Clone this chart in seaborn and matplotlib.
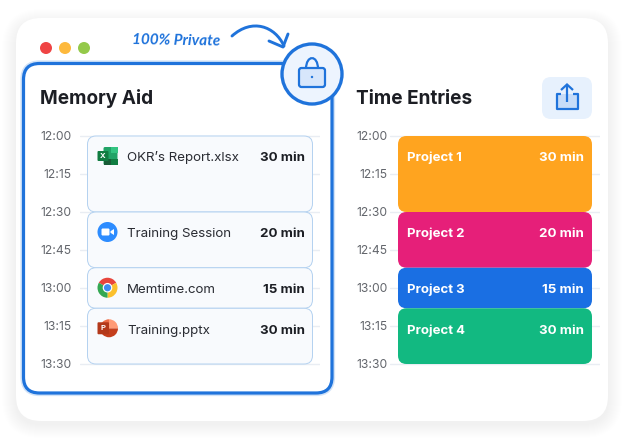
import matplotlib
matplotlib.use('Agg')
import matplotlib.pyplot as plt
import seaborn as sns
from matplotlib.patches import Circle, FancyBboxPatch, PathPatch, Polygon, Rectangle, Wedge
from matplotlib.path import Path
from matplotlib.transforms import IdentityTransform

# Chart values (minutes after 12:00, as drawn in the picture)
tick_minutes = [0, 15, 30, 45, 60, 75, 90]
tick_labels = ['12:00', '12:15', '12:30', '12:45', '13:00', '13:15', '13:30']
block_starts = [0, 30, 52, 68]
block_lengths = [30, 22, 16, 22]
duration_labels = ['30 min', '20 min', '15 min', '30 min']
memory_names = ["OKR’s Report.xlsx", 'Training Session', 'Memtime.com', 'Training.pptx']
project_names = ['Project 1', 'Project 2', 'Project 3', 'Project 4']
project_colors = ['#ffa41f', '#e61f79', '#1a6fe3', '#12b981']

BLUE = '#1f73db'
INK = '#1c1e24'
W, H = 624, 440

sns.set_theme(style='white')
plt.rcParams['font.family'] = ['Inter', 'DejaVu Sans']

fig = plt.figure(figsize=(W / 100, H / 100), dpi=100)
fig.patch.set_facecolor('white')


def pixel_axes(zorder):
    a = fig.add_axes([0, 0, 1, 1], zorder=zorder)
    a.set_xlim(0, W)
    a.set_ylim(H, 0)
    a.axis('off')
    return a


def round_box(a, x0, y0, x1, y1, r, **kw):
    p = FancyBboxPatch((x0, y0), x1 - x0, y1 - y0,
                       boxstyle=f'round,pad=0,rounding_size={r}', **kw)
    a.add_patch(p)
    return p


back = pixel_axes(0)
top = pixel_axes(5)

# outer card with a soft shadow
for grow in range(14, 0, -1):
    round_box(back, 16 - grow, 18 - grow + 5, 608 + grow, 421 + grow + 3, 25 + grow,
              fc='#5a6a85', ec='none', alpha=0.0035)
round_box(back, 16, 18, 608, 421, 25, fc='white', ec='none')

# window buttons
for cx, col in zip([46, 65, 84], ['#ef4444', '#fdb93d', '#94c94a']):
    back.add_patch(Circle((cx, 48), 6, fc=col, ec='none'))

# memory aid frame
round_box(back, 23.5, 63.5, 332, 393, 16, fc='none', ec=BLUE, lw=4.5, alpha=0.2)
round_box(back, 23.5, 63.5, 332, 393, 16, fc='white', ec=BLUE, lw=2.3)

back.text(40, 104.5, 'Memory Aid', fontsize=13.7, fontweight='bold', color=INK)
back.text(356, 104.5, 'Time Entries', fontsize=13.7, fontweight='bold', color=INK)

# handwritten note and arrow
back.text(132, 41, '100% Private', fontsize=11, color=BLUE, style='italic', va='center',
          rotation=-1, family='Lato', fontweight='bold')
back.add_patch(PathPatch(Path([(232, 36), (252, 18), (275, 26), (284, 46)],
                              [Path.MOVETO, Path.CURVE4, Path.CURVE4, Path.CURVE4]),
                         fc='none', ec=BLUE, lw=2.1, capstyle='round'))
back.add_patch(PathPatch(Path([(269, 41), (283, 47), (288, 34)]), fc='none', ec=BLUE, lw=2.1,
                         capstyle='round', joinstyle='round'))

# lock badge
top.add_patch(Circle((312, 74), 30, fc='#edf4fe', ec=BLUE, lw=2.4))
top.add_patch(PathPatch(Path([(306, 69), (306, 54.5), (318, 54.5), (318, 69)],
                             [Path.MOVETO, Path.CURVE4, Path.CURVE4, Path.CURVE4]),
                        fc='none', ec=BLUE, lw=1.6))
round_box(top, 299, 68, 325, 87, 2.5, fc='#d7e6fb', ec=BLUE, lw=1.6)
top.add_patch(Circle((312, 77), 1.2, fc=BLUE, ec='none'))

# share button
round_box(back, 542, 77, 592, 119, 9, fc='#e7f1fd', ec='none')
back.add_patch(Rectangle((557, 94), 21, 15, fc='#c6dcf8', ec='none'))
back.add_patch(PathPatch(Path([(561, 94), (556.5, 94), (556.5, 109), (578, 109), (578, 94), (573, 94)]),
                         fc='none', ec=BLUE, lw=1.6, joinstyle='round'))
back.add_patch(PathPatch(Path([(567, 102), (567, 85)]), fc='none', ec=BLUE, lw=1.6))
back.add_patch(PathPatch(Path([(561, 90), (567, 84.5), (573, 90)]), fc='none', ec=BLUE, lw=1.6))


def make_chart(x0, x1, bar_w, colors, edge, pad):
    # axes span the 90 minutes plus a 2 minute margin at each end
    per_min = 228 / 90
    y0, y1 = 136 - 2 * per_min, 364 + 2 * per_min
    ax = fig.add_axes([x0 / W, 1 - y1 / H, (x1 - x0) / W, (y1 - y0) / H], zorder=2)
    ax.patch.set_alpha(0)
    for start, length, col in zip(block_starts, block_lengths, colors):
        sns.barplot(x=[0], y=[length], bottom=start, width=bar_w, color=col,
                    saturation=1, ax=ax)
    ax.set_xlim(-0.5, 0.5)
    ax.set_ylim(92, -2)
    ax.set_xticks([])
    ax.set_xlabel('')
    ax.set_ylabel('')
    ax.set_yticks(tick_minutes, tick_labels)
    ax.tick_params(axis='y', length=0, pad=pad, labelsize=8.7, labelcolor='#63666c')
    ax.grid(axis='y', color='#e9edf3', lw=1)
    ax.set_axisbelow(True)
    sns.despine(ax=ax, left=True, bottom=True)

    # swap the square bars for rounded ones, same extents
    boxes = []
    for bar, col in zip(list(ax.patches), colors):
        ext = bar.get_window_extent()
        bar.remove()
        round_box(ax, ext.x0, ext.y0, ext.x1, ext.y1, 8.5, transform=IdentityTransform(),
                  fc=col, ec=edge, lw=0.7 if edge != 'none' else 0)
        boxes.append((ext.x0, H - ext.y1, ext.x1, H - ext.y0))
    return ax, boxes


left_ax, left_boxes = make_chart(80, 320, 225 / 240, ['#f8fafd'] * 4, '#b3d1f0', 6.2)
right_ax, right_boxes = make_chart(390, 600, 194 / 210, project_colors, 'none', 1.8)

for box, name, dur in zip(left_boxes, memory_names, duration_labels):
    top.text(box[0] + 39.5, box[1] + 25.5, name, fontsize=9.6, color='#2a2c33')
    top.text(box[2] - 8, box[1] + 25.5, dur, fontsize=9.6, color=INK, fontweight='bold', ha='right')

for box, name, dur in zip(right_boxes, project_names, duration_labels):
    top.text(box[0] + 9, box[1] + 25.5, name, fontsize=9.5, color='white', fontweight='bold')
    top.text(box[2] - 8, box[1] + 25.5, dur, fontsize=9.6, color='white', fontweight='bold', ha='right')


def excel_icon(cx, cy):
    round_box(top, cx - 4, cy - 9, cx + 10, cy + 9, 1.5, fc='#21a366', ec='none')
    top.add_patch(Rectangle((cx + 3, cy - 9), 7, 6, fc='#33c481', ec='none'))
    top.add_patch(Rectangle((cx - 4, cy + 3), 14, 6, fc='#185c37', ec='none'))
    top.add_patch(Rectangle((cx + 3, cy + 3), 7, 6, fc='#107c41', ec='none'))
    round_box(top, cx - 10, cy - 5, cx + 1, cy + 5, 1, fc='#107c41', ec='none')
    top.text(cx - 4.5, cy, 'X', color='white', fontsize=5.5, ha='center', va='center', fontweight='bold')


def zoom_icon(cx, cy):
    top.add_patch(Circle((cx, cy), 10, fc='#2d8cff', ec='none'))
    round_box(top, cx - 6, cy - 3.5, cx + 2, cy + 3.5, 1.2, fc='white', ec='none')
    top.add_patch(Polygon([(cx + 3, cy - 0.8), (cx + 6.5, cy - 3), (cx + 6.5, cy + 3), (cx + 3, cy + 0.8)],
                          fc='white', ec='none'))


def chrome_icon(cx, cy):
    top.add_patch(Wedge((cx, cy), 10, 210, 330, fc='#e8453c', ec='none'))
    top.add_patch(Wedge((cx, cy), 10, -30, 90, fc='#fbc02d', ec='none'))
    top.add_patch(Wedge((cx, cy), 10, 90, 210, fc='#34a853', ec='none'))
    top.add_patch(Circle((cx, cy), 4.8, fc='white', ec='none'))
    top.add_patch(Circle((cx, cy), 3.6, fc='#3f8cf0', ec='none'))


def pptx_icon(cx, cy):
    cx += 1.5
    top.add_patch(Wedge((cx, cy), 9, 0, 180, fc='#c43e1c', ec='none'))
    top.add_patch(Wedge((cx, cy), 9, 180, 270, fc='#ed6c47', ec='none'))
    top.add_patch(Wedge((cx, cy), 9, 270, 360, fc='#ff9a76', ec='none'))
    round_box(top, cx - 11.5, cy - 6, cx, cy + 6, 1, fc='#b3381a', ec='none')
    top.text(cx - 6, cy, 'P', color='white', fontsize=5.5, ha='center', va='center', fontweight='bold')


for box, icon in zip(left_boxes, [excel_icon, zoom_icon, chrome_icon, pptx_icon]):
    icon(box[0] + 20, box[1] + 20)

fig.savefig('out.png', dpi=100)
